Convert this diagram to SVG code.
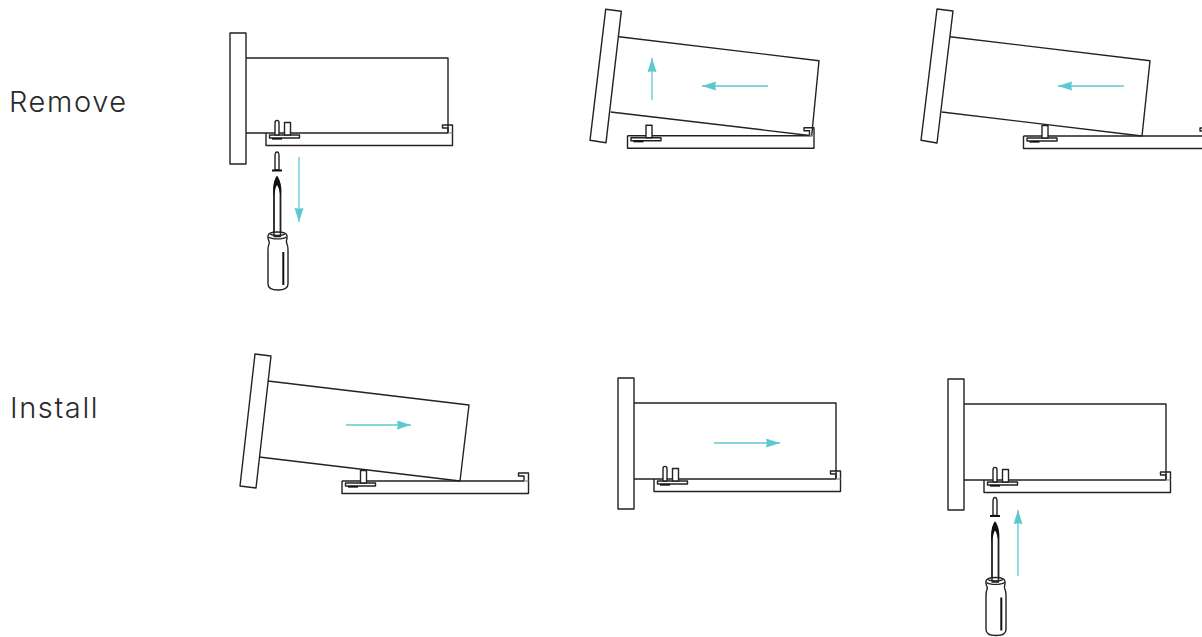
<svg xmlns="http://www.w3.org/2000/svg" width="1202" height="637" viewBox="0 0 1202 637">
<style>
.l{fill:none;stroke:#222;stroke-width:1.4;stroke-linejoin:round}
.w{fill:#fff;stroke:#222;stroke-width:1.4;stroke-linejoin:round}
.a{fill:none;stroke:#5ec8cf;stroke-width:1.3;marker-end:url(#ah)}
.t{font-family:Inter,"Liberation Sans",sans-serif;font-weight:300;font-size:29px;letter-spacing:1.600px;fill:#2a2a2a}
</style>
<defs>
<marker id="ah" markerUnits="userSpaceOnUse" markerWidth="16" markerHeight="10" refX="14" refY="4.500" orient="auto"><path d="M0 0L14 4.500L0 9L0.800 4.500Z" fill="#5ec8cf"/></marker>
<g id="rail">
<path class="l" d="M0 0V12.500H186.500V-8H176.500V-5H182V0M0 0H182"/>
<path d="M182 0H186.500" stroke="#888" stroke-width="1.200"/>
<rect class="w" x="3.500" y="2" width="30" height="3"/>
<path d="M6 5.800H16" stroke="#111" stroke-width="1.700"/>
<rect class="w" x="18.500" y="-10.500" width="6" height="12.500"/>
</g>
<g id="pin">
<path class="w" d="M9 2V-10C9-13.500 13-13.500 13-10V2Z"/>
</g>
<g id="driver">
<path class="w" d="M277 152C275 152 275 154 275 156V170H279V156C279 154 279 152 277 152Z"/>
<path d="M272 170.500H282" stroke="#111" stroke-width="2"/>
<path class="l" style="stroke-width:1.800" d="M274 233V190C274 186 275 181 277 177C279 181 280.500 186 280.500 190V233"/>
<path d="M277 176.500C274.500 179 273.300 184 273.300 191V197L275 191C275.500 188 276.300 186 277 185C277.700 186 278.800 188 279.300 191L281 197V191C281 184 279.500 179 277 176.500Z" fill="#111"/>
<path class="w" d="M268 236C268 233 272 232 277.500 232C283 232 287 233 287 236V238C287 240 285.500 241 287 244C288 246 288 247 288 250V284C288 288 284 290 278 290C272 290 268 288 268 284V250C268 247 268 246 269 244C270 241 268 240 268 238Z"/>
<path class="l" d="M268.500 237C272 239.500 283 239.500 286.500 237M270 234C273 236 282 236 285 234M274 232V236.500H280.500V232"/>
<path d="M283.300 252V285" stroke="#111" stroke-width="2"/>
</g>
</defs>
<text class="t" x="9" y="112">Remove</text>
<text class="t" x="10" y="418">Install</text>
<g id="connectors">
<path class="a" d="M299 157V222"/>
<path class="a" d="M652 100V58"/>
<path class="a" d="M768 86H702"/>
<path class="a" d="M1124 86H1058"/>
<path class="a" d="M346 425H411"/>
<path class="a" d="M714 443H780"/>
<path class="a" d="M1018 576V510"/>
</g>
<g id="remove-1">
<rect class="w" x="230" y="33" width="16" height="131"/>
<path class="l" d="M246 58H448V133M246 133H266"/>
<use href="#rail" x="266" y="133"/>
<use href="#pin" x="266" y="133"/>
<use href="#driver"/>
</g>
<g id="remove-2">
<path class="l" d="M605.700 9.300L621.300 11.300L606 142.700L590 140.300Z"/>
<path class="l" d="M619 36.700L819 60.700L811.700 135.700L610.700 112"/>
<use href="#rail" x="627.500" y="135.700"/>
</g>
<g id="remove-3">
<path class="l" d="M937 9L953 11L937 143L921 140.300Z"/>
<path class="l" d="M950 36.700L1150 60.700L1142 136L941.700 112"/>
<use href="#rail" x="1023.500" y="136"/>
</g>
<g id="install-1">
<path class="l" d="M255 354L271 356L256 488L240 486Z"/>
<path class="l" d="M268 381L469 405L460 481L259 457"/>
<use href="#rail" x="342" y="481"/>
</g>
<g id="install-2">
<rect class="w" x="618" y="378" width="16" height="131"/>
<path class="l" d="M634 403H836V479M634 479H654"/>
<use href="#rail" x="654" y="479"/>
<use href="#pin" x="654" y="479"/>
</g>
<g id="install-3">
<rect class="w" x="948" y="379" width="16" height="131"/>
<path class="l" d="M964 404H1166V480M964 480H984"/>
<use href="#rail" x="984" y="480"/>
<use href="#pin" x="984" y="480"/>
<use href="#driver" x="718" y="345.500"/>
</g>
</svg>
